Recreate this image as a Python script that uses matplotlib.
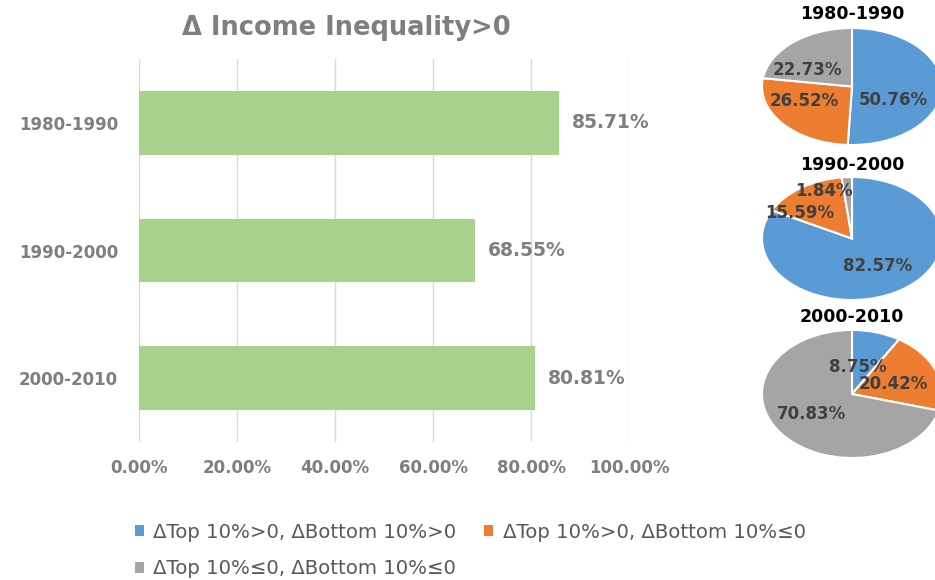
import matplotlib
matplotlib.use("Agg")
import matplotlib.pyplot as plt
from matplotlib.patches import Patch
from matplotlib.transforms import ScaledTranslation

periods = ["1980-1990", "1990-2000", "2000-2010"]
inequality_up = [85.71, 68.55, 80.81]
x_ticks = [0, 20, 40, 60, 80, 100]

series_names = ["\u0394Top 10%>0, \u0394Bottom 10%>0",
                "\u0394Top 10%>0, \u0394Bottom 10%\u22640",
                "\u0394Top 10%\u22640, \u0394Bottom 10%\u22640"]
both_up = [50.76, 82.57, 8.75]
top_up_bottom_down = [26.52, 15.59, 20.42]
both_down = [22.73, 1.84, 70.83]

BAR_GREEN = "#a9d18e"
PIE_COLORS = ["#5b9bd5", "#ed7d31", "#a5a5a5"]
GRAY_TEXT = "#7f7f7f"
DARK_TEXT = "#404040"

# label nudges in pixels (dx right, dy down) to mimic the original label placement
label_nudges = [
    [(-4, 13), (-13, -4), (-15, 6)],
    [(2, 1), (-27, 0), (-25, -17)],
    [(-6, 4), (0, 2), (-5, 1)],
]

plt.rcParams['font.family'] = ['DejaVu Sans']

W, H = 935, 580
fig = plt.figure(figsize=(W / 100, H / 100), dpi=100)

def px_axes(left, top, right, bottom):
    return fig.add_axes([left / W, 1 - bottom / H, (right - left) / W, (bottom - top) / H])

# ---- bar chart
ax = px_axes(139, 59, 629, 442)
ypos = list(range(len(periods)))
ax.barh(ypos, inequality_up, height=0.5, color=BAR_GREEN, zorder=3)
ax.set_xlim(0, 100)
ax.set_ylim(len(periods) - 0.5, -0.5)
ax.set_yticks(ypos)
ax.set_yticklabels(periods, fontsize=12, fontweight='bold', color=GRAY_TEXT)
ax.set_xticks(x_ticks)
ax.set_xticklabels([f"{v:.2f}%" for v in x_ticks], fontsize=12, fontweight='bold', color=GRAY_TEXT)
ax.tick_params(length=0, pad=12)
ax.tick_params(axis='y', pad=15)
ax.grid(axis='x', color="#d9d9d9", linewidth=1, zorder=0)
for s in ax.spines.values():
    s.set_visible(False)
for y, v in zip(ypos, inequality_up):
    ax.annotate(f"{v:.2f}%", (v, y), xytext=(9, 0), textcoords='offset points',
                ha='left', va='center', fontsize=13.5, fontweight='bold', color=GRAY_TEXT)
fig.text(346 / W, 1 - 28 / H, "\u0394 Income Inequality>0", ha='center', va='center',
         fontsize=18.5, fontweight='bold', color=GRAY_TEXT)

# ---- pies
pie_boxes = [(762, 28, 942, 145), (762, 177, 942, 300), (762, 330, 942, 458)]
title_y = [14, 165, 317]
for i, period in enumerate(periods):
    vals = [both_up[i], top_up_bottom_down[i], both_down[i]]
    pax = px_axes(*pie_boxes[i])
    wedges, texts, autotexts = pax.pie(vals, colors=PIE_COLORS, startangle=90, counterclock=False,
                                       autopct="%.2f%%", pctdistance=0.5,
                                       wedgeprops=dict(edgecolor='white', linewidth=1.5),
                                       textprops=dict(fontsize=12, fontweight='bold', color=DARK_TEXT))
    for t, v, (dx, dy) in zip(autotexts, vals, label_nudges[i]):
        t.set_text(f"{v:.2f}%")
        t.set_transform(t.get_transform() + ScaledTranslation(dx / 100, -dy / 100, fig.dpi_scale_trans))
    pax.set_aspect('auto')
    pax.set_xlim(-1, 1)
    pax.set_ylim(-1, 1)
    pax.set_axis_off()
    fig.text(852 / W, 1 - title_y[i] / H, period, ha='center', va='center',
             fontsize=12.5, fontweight='bold', color='black')

# ---- legend
handles = [Patch(facecolor=c, edgecolor='none') for c in PIE_COLORS]
order = [0, 2, 1]
fig.legend([handles[k] for k in order], [series_names[k] for k in order], ncol=2,
           loc='upper left', bbox_to_anchor=(117 / W, 1 - 505 / H), frameon=False,
           fontsize=14.2, labelcolor="#595959", handlelength=0.45, handleheight=0.45,
           handletextpad=0.5, columnspacing=1.4, labelspacing=0.9)

fig.savefig("out.png", dpi=100)
